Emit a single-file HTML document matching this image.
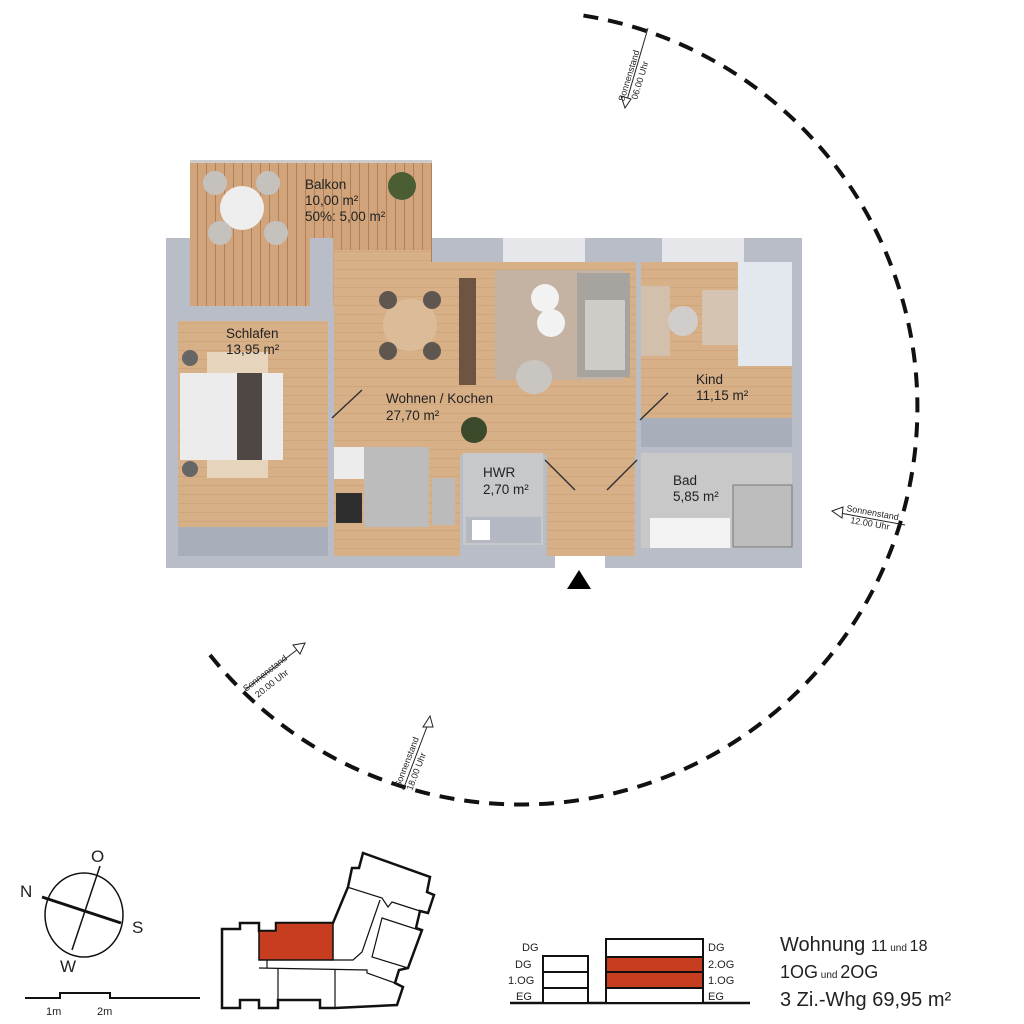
<!DOCTYPE html>
<html><head><meta charset="utf-8"><style>
html,body{margin:0;padding:0;background:#fff;width:1024px;height:1024px;overflow:hidden}
svg{display:block}
text{font-family:"Liberation Sans",sans-serif;fill:#222}
</style></head><body>
<svg width="1024" height="1024" viewBox="0 0 1024 1024" xmlns="http://www.w3.org/2000/svg">
<defs>
<pattern id="wood" width="60" height="9" patternUnits="userSpaceOnUse">
<rect width="60" height="9" fill="#d8b088"/><rect y="8" width="60" height="1" fill="#cfa57c"/>
</pattern>
<pattern id="deck" width="9" height="20" patternUnits="userSpaceOnUse">
<rect width="9" height="20" fill="#d2a47c"/><rect x="8" width="1" height="20" fill="#b08058"/>
</pattern>
</defs>

<!-- sun arc -->
<path d="M 210 655 A 397 397 0 1 0 580 15" fill="none" stroke="#111" stroke-width="4" stroke-dasharray="15 10"/>

<!-- sun markers -->
<g stroke="#222" stroke-width="1" fill="#fff">
<line x1="648" y1="28" x2="627" y2="100"/><polygon points="625,108 621,96 631,99"/>
<line x1="905" y1="525" x2="840" y2="513"/><polygon points="832,511 843,507 842,518"/>
<line x1="245" y1="690" x2="298" y2="649"/><polygon points="305,643 293,645 300,654"/>
<line x1="403" y1="790" x2="428" y2="724"/><polygon points="430,716 423,727 433,727"/>
</g>
<g font-size="9">
<text transform="translate(624,102) rotate(-73)">Sonnenstand</text>
<text transform="translate(637,100) rotate(-73)">06.00 Uhr</text>
<text transform="translate(846,511) rotate(10)">Sonnenstand</text>
<text transform="translate(850,523) rotate(10)">12.00 Uhr</text>
<text transform="translate(246,692) rotate(-38)">Sonnenstand</text>
<text transform="translate(258,698) rotate(-38)">20.00 Uhr</text>
<text transform="translate(400,788) rotate(-69)">Sonnenstand</text>
<text transform="translate(412,791) rotate(-69)">18.00 Uhr</text>
</g>

<!-- floor plan outer walls -->
<rect x="166" y="238" width="636" height="330" fill="#b9bdc8"/>
<!-- balcony -->
<rect x="190" y="160" width="242" height="146" fill="url(#deck)"/>
<rect x="190" y="160" width="242" height="3" fill="#ccc"/>
<rect x="310" y="238" width="23" height="82" fill="#b9bdc8"/>
<!-- windows -->
<rect x="503" y="238" width="82" height="24" fill="#e6e7ea"/>
<rect x="662" y="238" width="82" height="24" fill="#e6e7ea"/>
<!-- rooms -->
<rect x="178" y="321" width="150" height="235" fill="url(#wood)"/>
<rect x="178" y="527" width="150" height="29" fill="#a9aebb"/>
<rect x="334" y="250" width="97" height="30" fill="url(#wood)"/>
<rect x="334" y="262" width="302" height="193" fill="url(#wood)"/>
<rect x="334" y="418" width="256" height="37" fill="url(#wood)"/>
<rect x="334" y="447" width="126" height="109" fill="url(#wood)"/>
<rect x="641" y="262" width="151" height="158" fill="url(#wood)"/>
<rect x="641" y="418" width="151" height="29" fill="#a9aebb"/>
<rect x="463" y="453" width="80" height="92" fill="#c7c8ca"/>
<rect x="466" y="517" width="75" height="26" fill="#b3b8c3"/>
<rect x="472" y="520" width="18" height="20" fill="#fff"/>
<rect x="547" y="453" width="88" height="103" fill="url(#wood)"/>
<rect x="641" y="453" width="151" height="95" fill="#c8c8c8"/>
<rect x="733" y="485" width="59" height="62" fill="#bdbdbd" stroke="#777" stroke-width="1"/>
<rect x="650" y="518" width="80" height="30" fill="#f3f3f3"/>
<rect x="555" y="556" width="50" height="12" fill="#fff"/>
<!-- kitchen -->
<rect x="334" y="447" width="30" height="32" fill="#ececec"/>
<rect x="364" y="447" width="65" height="80" fill="#bcbcbc"/>
<rect x="432" y="478" width="23" height="47" fill="#bbb"/>
<rect x="336" y="493" width="26" height="30" fill="#2e2e2e"/>
<!-- living furniture -->
<rect x="495" y="270" width="128" height="110" fill="#c4b3a3"/>
<rect x="577" y="273" width="53" height="104" fill="#a7a39f"/>
<rect x="585" y="300" width="40" height="70" fill="#cfccc8"/>
<circle cx="545" cy="298" r="14" fill="#f2f2f2"/><circle cx="551" cy="323" r="14" fill="#f2f2f2"/>
<ellipse cx="534" cy="377" rx="18" ry="17" fill="#c9c6c2"/>
<rect x="459" y="278" width="17" height="107" fill="#6e5543"/>
<ellipse cx="410" cy="325" rx="27" ry="26" fill="#dcbb98"/>
<g fill="#5f5650"><circle cx="388" cy="300" r="9"/><circle cx="432" cy="300" r="9"/><circle cx="388" cy="351" r="9"/><circle cx="432" cy="351" r="9"/></g>
<circle cx="474" cy="430" r="13" fill="#3c4a2c"/>
<!-- kind furniture -->
<rect x="702" y="290" width="38" height="55" fill="#d6c4b2"/>
<rect x="738" y="262" width="54" height="104" fill="#e3e7ee"/>
<rect x="641" y="286" width="29" height="70" fill="#d2c0ac"/>
<ellipse cx="683" cy="321" rx="15" ry="15" fill="#d0cdca"/>
<!-- schlafen bed -->
<rect x="207" y="352" width="61" height="126" fill="#e6d4bd"/>
<rect x="180" y="373" width="103" height="87" fill="#ececec"/>
<rect x="237" y="373" width="25" height="87" fill="#4f4744"/>
<circle cx="190" cy="358" r="8" fill="#666"/><circle cx="190" cy="469" r="8" fill="#666"/>
<!-- balcony furniture -->
<circle cx="242" cy="208" r="22" fill="#eee"/>
<g fill="#c5c2be"><circle cx="215" cy="183" r="12"/><circle cx="268" cy="183" r="12"/><circle cx="220" cy="233" r="12"/><circle cx="276" cy="233" r="12"/></g>
<circle cx="402" cy="186" r="14" fill="#4a5d33"/>
<!-- doors -->
<g stroke="#333" stroke-width="1.5">
<line x1="332" y1="418" x2="362" y2="390"/>
<line x1="640" y1="420" x2="668" y2="393"/>
<line x1="545" y1="460" x2="575" y2="490"/>
<line x1="637" y1="460" x2="607" y2="490"/>
</g>
<polygon points="567,589 579,570 591,589" fill="#000"/>

<!-- labels -->
<g font-size="13.5">
<text x="305" y="189">Balkon</text>
<text x="305" y="205">10,00 m²</text>
<text x="305" y="221">50%: 5,00 m²</text>
<text x="226" y="338">Schlafen</text>
<text x="226" y="354">13,95 m²</text>
<text x="386" y="403">Wohnen / Kochen</text>
<text x="386" y="420">27,70 m²</text>
<text x="696" y="384">Kind</text>
<text x="696" y="400">11,15 m²</text>
<text x="483" y="477">HWR</text>
<text x="483" y="494">2,70 m²</text>
<text x="673" y="485">Bad</text>
<text x="673" y="501">5,85 m²</text>
</g>

<!-- compass -->
<ellipse cx="84" cy="915" rx="39" ry="42" fill="none" stroke="#111" stroke-width="1.5"/>
<line x1="100" y1="866" x2="72" y2="950" stroke="#111" stroke-width="1.5"/>
<line x1="42" y1="897" x2="121" y2="923" stroke="#111" stroke-width="3"/>
<g font-size="17"><text x="91" y="862">O</text><text x="20" y="897">N</text><text x="132" y="933">S</text><text x="60" y="972">W</text></g>
<!-- scale -->
<polyline points="25,998 60,998 60,993 110,993 110,998 200,998" fill="none" stroke="#111" stroke-width="2"/>
<text x="46" y="1015" font-size="11">1m</text><text x="97" y="1015" font-size="11">2m</text>

<!-- site plan -->
<path d="M222,929 L240,929 L240,923 L259,923 L259,931 L276,931 L276,923 L333,923 L348,887 L352,868 L359,868 L363,853 L430,877 L427,892 L434,895 L428,913 L420,911 L416,928 L422,930 L408,968 L399,970 L395,983 L403,987 L397,1005 L335,1008 L320,1008 L320,1000 L278,1000 L278,1008 L259,1008 L259,1000 L240,1000 L240,1008 L222,1008 Z" fill="#fff" stroke="#111" stroke-width="2.5"/>
<polygon points="259,931 276,931 276,923 333,923 333,960 259,960" fill="#c73d20" stroke="#111" stroke-width="1.5"/>
<g fill="none" stroke="#111" stroke-width="1.2">
<path d="M333,960 L353,960 L362,952 L380,900"/>
<path d="M259,968 L367,970 L367,973 L395,983"/>
<path d="M347,887 L382,898 L388,907 L392,902 L420,911"/>
<path d="M382,918 L422,931 L408,968 L372,957 Z"/>
<line x1="267" y1="960" x2="267" y2="968"/>
<line x1="278" y1="968" x2="278" y2="1000"/><line x1="335" y1="970" x2="335" y2="1008"/>
</g>

<!-- section diagrams -->
<line x1="510" y1="1003" x2="750" y2="1003" stroke="#111" stroke-width="2.5"/>
<g fill="#fff" stroke="#111" stroke-width="2">
<rect x="543" y="956" width="45" height="47"/>
<line x1="543" y1="972" x2="588" y2="972"/><line x1="543" y1="988" x2="588" y2="988"/>
<rect x="606" y="939" width="97" height="64"/>
</g>
<rect x="606" y="957" width="97" height="15" fill="#c73d20" stroke="#111" stroke-width="2"/>
<rect x="606" y="972" width="97" height="16" fill="#c73d20" stroke="#111" stroke-width="2"/>
<g font-size="11">
<text x="522" y="951">DG</text><text x="515" y="968">DG</text><text x="508" y="984">1.OG</text><text x="516" y="1000">EG</text>
<text x="708" y="951">DG</text><text x="708" y="968">2.OG</text><text x="708" y="984">1.OG</text><text x="708" y="1000">EG</text>
</g>
<text x="780" y="951" font-size="20">Wohnung <tspan font-size="16">11</tspan><tspan font-size="10"> und </tspan><tspan font-size="16">18</tspan></text>
<text x="780" y="978" font-size="18">1OG<tspan font-size="10"> und </tspan>2OG</text>
<text x="780" y="1006" font-size="20">3 Zi.-Whg 69,95 m²</text>
</svg>
</body></html>
